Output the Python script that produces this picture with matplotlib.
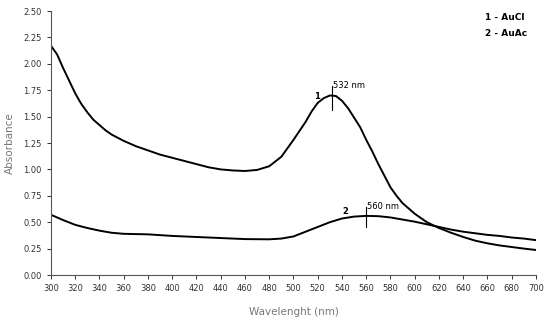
import matplotlib.pyplot as plt
import numpy as np

# curve 1 - AuCl
wl1 = [300, 305, 310, 315, 320, 325, 330, 335, 340, 345, 350, 360, 370, 380, 390, 400,
       410, 420, 430, 440, 450, 460, 470, 480, 490, 500, 510, 515, 520, 525, 530, 535,
       540, 545, 550, 555, 560, 565, 570, 575, 580, 585, 590, 600, 610, 620, 630, 640,
       650, 660, 670, 680, 690, 700]
ab1 = [2.17, 2.09, 1.96, 1.84, 1.72, 1.62, 1.54, 1.47, 1.42, 1.37, 1.33, 1.27, 1.22, 1.18, 1.14, 1.11,
       1.08, 1.05, 1.02, 1.00, 0.99, 0.985, 0.995, 1.03, 1.12, 1.28, 1.45, 1.55, 1.63, 1.675, 1.70, 1.695,
       1.65, 1.58, 1.49, 1.40, 1.28, 1.17, 1.05, 0.94, 0.83, 0.75, 0.68, 0.58, 0.50, 0.445, 0.40, 0.36,
       0.325, 0.30, 0.28, 0.265, 0.25, 0.237]

# curve 2 - AuAc
wl2 = [300, 310, 320, 330, 340, 350, 360, 380, 400, 420, 440, 460, 480, 490, 500, 510,
       520, 530, 540, 550, 560, 570, 580, 590, 600, 610, 620, 630, 640, 650, 660, 670,
       680, 690, 700]
ab2 = [0.57, 0.52, 0.475, 0.445, 0.42, 0.40, 0.39, 0.385, 0.37, 0.36, 0.35, 0.34, 0.338, 0.345, 0.365, 0.41,
       0.455, 0.50, 0.535, 0.553, 0.56, 0.557, 0.545, 0.525, 0.505, 0.48, 0.455, 0.43, 0.41, 0.395, 0.38, 0.37,
       0.355, 0.345, 0.33]

xticks = list(range(300, 701, 20))
yticks = [0.0, 0.25, 0.5, 0.75, 1.0, 1.25, 1.5, 1.75, 2.0, 2.25, 2.5]

fig = plt.figure(figsize=(5.5, 3.21), dpi=100)
ax = fig.add_axes([0.0927, 0.1433, 0.8818, 0.8224])

ax.plot(wl1, ab1, color='black', lw=1.4)
ax.plot(wl2, ab2, color='black', lw=1.4)

# peak markers
ax.plot([532, 532], [1.56, 1.79], color='black', lw=0.8)
ax.plot([560, 560], [0.45, 0.64], color='black', lw=0.8)
ax.text(533, 1.79, '532 nm', fontsize=6, va='center', ha='left')
ax.text(561, 0.65, '560 nm', fontsize=6, va='center', ha='left')
ax.text(519, 1.69, '1', fontsize=6, fontweight='bold', ha='center', va='center')
ax.text(543, 0.60, '2', fontsize=6, fontweight='bold', ha='center', va='center')

fig.text(0.882, 0.947, '1 - AuCl', fontsize=6.5, fontweight='bold', ha='left', va='center')
fig.text(0.882, 0.897, '2 - AuAc', fontsize=6.5, fontweight='bold', ha='left', va='center')

ax.set_xlim(300, 700)
ax.set_ylim(0, 2.5)
ax.set_xticks(xticks)
ax.set_yticks(yticks)
ax.set_yticklabels(['%.2f' % v for v in yticks])
ax.tick_params(labelsize=6, length=3, width=0.7, direction='out', colors='#333333')
for s in ['top', 'right']:
    ax.spines[s].set_visible(False)
for s in ['left', 'bottom']:
    ax.spines[s].set_color('#555555')
    ax.spines[s].set_linewidth(0.8)

ax.set_xlabel('Wavelenght (nm)', fontsize=7.5, color='#777777', labelpad=10)
ax.set_ylabel('Absorbance', fontsize=7.5, color='#777777', labelpad=6)

fig.savefig('out.png', dpi=100)
